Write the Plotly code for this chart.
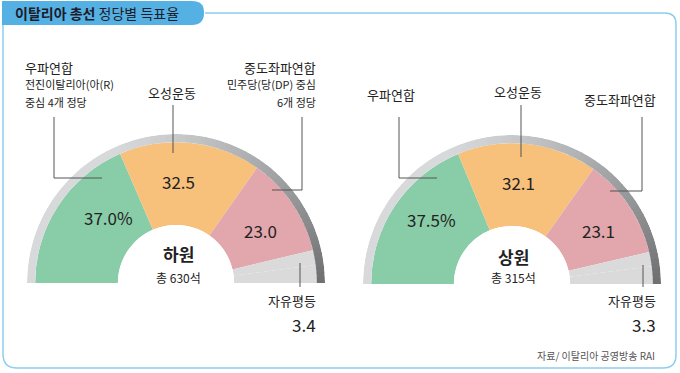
import plotly.graph_objects as go

W, H = 680, 373
FONT = "Noto Sans CJK KR"

# ---- data ----
parties = ["우파연합", "오성운동", "중도좌파연합", "자유평등"]
colors = ["#89cda8", "#f7c07b", "#e2a6ad", "#dadadb"]
lower_vals = [37.0, 32.5, 23.0, 3.4]   # 하원
upper_vals = [37.5, 32.1, 23.1, 3.3]   # 상원
lower_labels = ["37.0%", "32.5", "23.0", "3.4"]
upper_labels = ["37.5%", "32.1", "23.1", "3.3"]
chambers = ["하원", "상원"]
seats = ["총 630석", "총 315석"]
source = "자료/ 이탈리아 공영방송 RAI"

def px(x):
    return x / W

def py(y):
    return 1 - y / H

RMAX = 1.099
fig = go.Figure()

def add_half(vals, polar_name):
    rest = max(100 - sum(vals), 0)
    v = list(vals) + [rest]
    cols = colors + [colors[-1]]
    widths = [x * 1.8 for x in v]
    thetas = []
    c = 0
    for wd in widths:
        thetas.append(c + wd / 2)
        c += wd
    fig.add_trace(go.Barpolar(
        r=[1] * len(v), theta=thetas, width=widths, base=0,
        marker=dict(color=cols, line=dict(width=0)),
        subplot=polar_name, hoverinfo="skip", showlegend=False))
    # decorative outer rim, gradient light -> dark
    n = 90
    rt, rw, rc = [], [], []
    for i in range(n):
        t = (i + 0.5) * 180 / n
        f = i / (n - 1)
        f = max(0, (f - 0.35) / 0.65) ** 1.3
        c1 = (216, 217, 219)
        c2 = (110, 112, 114)
        col = tuple(int(c1[k] + (c2[k] - c1[k]) * f) for k in range(3))
        rt.append(t)
        rw.append(180 / n + 0.3)
        rc.append("rgb(%d,%d,%d)" % col)
    fig.add_trace(go.Barpolar(
        r=[RMAX - 1] * n, theta=rt, width=rw, base=[1] * n,
        marker=dict(color=rc, line=dict(width=0)),
        subplot=polar_name, hoverinfo="skip", showlegend=False))

add_half(lower_vals, "polar")
add_half(upper_vals, "polar2")

R = 149
centers = [(176, 283), (512, 284)]

def polar_layout(cx, cy):
    return dict(
        domain=dict(x=[px(cx - R), px(cx + R)], y=[py(cy), py(cy - R)]),
        sector=[0, 180], hole=0.39, bgcolor="rgba(0,0,0,0)",
        radialaxis=dict(visible=False, range=[0, RMAX]),
        angularaxis=dict(visible=False, rotation=180, direction="clockwise",
                         thetaunit="degrees"),
        barmode="overlay")

fig.update_layout(
    width=W, height=H, margin=dict(l=0, r=0, t=0, b=0),
    paper_bgcolor="white", plot_bgcolor="white",
    polar=polar_layout(*centers[0]),
    polar2=polar_layout(*centers[1]),
    showlegend=False,
    font=dict(family=FONT, color="#222"),
)

ann = []
shapes = []

def text(x, y, s, size, anchor="center", color="#222", bold=False):
    if bold:
        s = "<b>" + s + "</b>"
    ann.append(dict(x=px(x), y=py(y), xref="paper", yref="paper", text=s,
                    showarrow=False, xanchor=anchor, yanchor="middle",
                    font=dict(size=size, color=color, family=FONT)))

def line(pts):
    for (x0, y0), (x1, y1) in zip(pts[:-1], pts[1:]):
        shapes.append(dict(type="line", xref="paper", yref="paper",
                           x0=px(x0), y0=py(y0), x1=px(x1), y1=py(y1),
                           line=dict(color="#555", width=1)))

# ---- left chart texts ----
text(108, 218, lower_labels[0], 17)
text(178, 181, lower_labels[1], 17)
text(260, 230, lower_labels[2], 17)
text(178, 253, chambers[0], 17, bold=True)
text(178, 277, seats[0], 12)
text(23, 67, parties[0], 13, anchor="left")
text(23, 84, "전진이탈리아(아(R)", 11, anchor="left")
text(23, 102, "중심 4개 정당", 11, anchor="left")
text(172, 93, parties[1], 13)
text(318, 67, parties[2], 13, anchor="right")
text(318, 84, "민주당(당(DP) 중심", 11, anchor="right")
text(318, 102, "6개 정당", 11, anchor="right")
text(318, 300, parties[3], 13, anchor="right")
text(318, 324, lower_labels[3], 17, anchor="right")
line([(54, 117), (54, 178), (102, 178)])
line([(173, 105), (173, 153)])
line([(302, 117), (302, 190), (272, 190)])
line([(300, 263), (300, 287)])

# ---- right chart texts ----
text(431, 220, upper_labels[0], 17)
text(518, 182, upper_labels[1], 17)
text(598, 230, upper_labels[2], 17)
text(513, 256, chambers[1], 17, bold=True)
text(513, 277, seats[1], 12)
text(391, 95, parties[0], 13)
text(518, 92, parties[1], 13)
text(658, 100, parties[2], 13, anchor="right")
text(658, 300, parties[3], 13, anchor="right")
text(658, 324, upper_labels[3], 17, anchor="right")
line([(399, 117), (399, 178), (437, 178)])
line([(521, 105), (521, 157)])
line([(642, 117), (642, 191), (610, 191)])
line([(643, 265), (643, 287)])

text(657, 355, source, 10, anchor="right", color="#555")

# ---- frame & title box ----
def P(x, y):
    return "%f,%f" % (px(x), py(y))

frame = ("M " + P(205, 13) + " L " + P(665, 13) + " Q " + P(676, 13) + " " + P(676, 24)
         + " L " + P(676, 355) + " Q " + P(676, 368) + " " + P(663, 368)
         + " L " + P(17, 368) + " Q " + P(3, 368) + " " + P(3, 354)
         + " L " + P(3, 20))
shapes.append(dict(type="path", xref="paper", yref="paper", path=frame,
                   line=dict(color="#8fcdf0", width=1.5)))
box = ("M " + P(2, 1) + " L " + P(192, 1) + " Q " + P(204, 1) + " " + P(204, 12)
       + " L " + P(204, 13) + " Q " + P(204, 25) + " " + P(192, 25)
       + " L " + P(2, 25) + " Z")
shapes.append(dict(type="path", xref="paper", yref="paper", path=box,
                   fillcolor="#55b1e3", line=dict(width=0)))
ann.append(dict(x=px(13), y=py(13), xref="paper", yref="paper",
                text="<b>이탈리아 총선</b> 정당별 득표율", showarrow=False,
                xanchor="left", yanchor="middle",
                font=dict(size=14, color="#1c1c2a", family=FONT)))

fig.update_layout(annotations=ann, shapes=shapes)
fig.write_html("out.html")
